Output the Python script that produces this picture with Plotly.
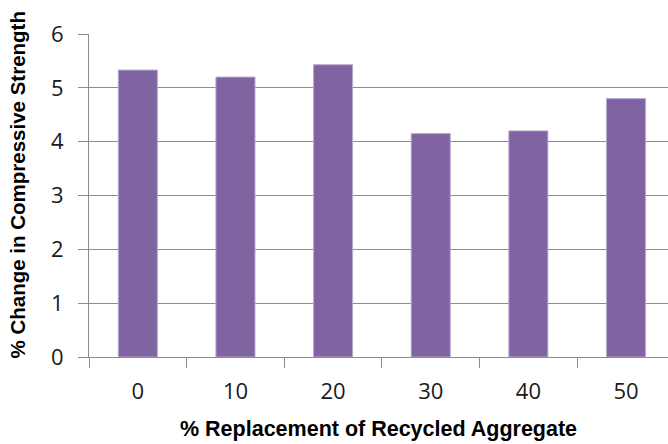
import plotly.graph_objects as go

# % replacement of recycled aggregate and the resulting change in strength
replacement = ["0", "10", "20", "30", "40", "50"]
strength_change = [5.33, 5.20, 5.43, 4.15, 4.20, 4.80]
y_ticks = [0, 1, 2, 3, 4, 5, 6]

x_title = "% Replacement of Recycled Aggregate"
y_title = "% Change in Compressive Strength"

BAR = "#8064A2"
GRID = "#8c8c8c"

W, H = 668, 444
ML, MR, MT, MB = 89, 0, 34, 87
plot_w = W - ML - MR
plot_h = H - MT - MB

fig = go.Figure(
    go.Bar(
        x=replacement,
        y=strength_change,
        width=0.4,
        marker=dict(color=BAR, line=dict(color="#b9a8d0", width=1)),
        hoverinfo="x+y",
    )
)

tick_font = dict(family="Open Sans, sans-serif", size=22, color="#1a1a1a")
x_title_font = dict(family="Liberation Sans, Arial, sans-serif", size=21.5, color="#000000")
y_title_font = dict(family="Liberation Sans, Arial, sans-serif", size=20.5, color="#000000")

fig.update_layout(
    width=W,
    height=H,
    margin=dict(l=ML, r=MR, t=MT, b=MB, pad=0),
    paper_bgcolor="white",
    plot_bgcolor="white",
    showlegend=False,
    xaxis=dict(
        type="category",
        range=[-0.5, 5.43],
        tickson="boundaries",
        ticks="outside",
        ticklen=10,
        tickcolor=GRID,
        tickwidth=1,
        showgrid=False,
        showline=True,
        linecolor=GRID,
        linewidth=1,
        tickfont=tick_font,
        ticklabelstandoff=15,
        zeroline=False,
    ),
    yaxis=dict(
        range=[0, 6],
        tickvals=y_ticks,
        ticks="outside",
        ticklen=10,
        tickcolor=GRID,
        tickwidth=1,
        showgrid=True,
        gridcolor=GRID,
        gridwidth=1,
        showline=True,
        linecolor=GRID,
        linewidth=1,
        zeroline=False,
        tickfont=tick_font,
        ticklabelstandoff=10,
    ),
    annotations=[
        dict(
            text="<b>%s</b>" % x_title,
            xref="paper", yref="paper",
            x=(378 - ML) / plot_w,
            y=(H - MB - 429) / plot_h,
            xanchor="center", yanchor="middle",
            showarrow=False,
            font=x_title_font,
        ),
        dict(
            text="<b>%s</b>" % y_title,
            xref="paper", yref="paper",
            x=(16.5 - ML) / plot_w,
            y=(H - MB - 185) / plot_h,
            xanchor="center", yanchor="middle",
            textangle=-90,
            showarrow=False,
            font=y_title_font,
        ),
    ],
)

fig.write_html("out.html")
